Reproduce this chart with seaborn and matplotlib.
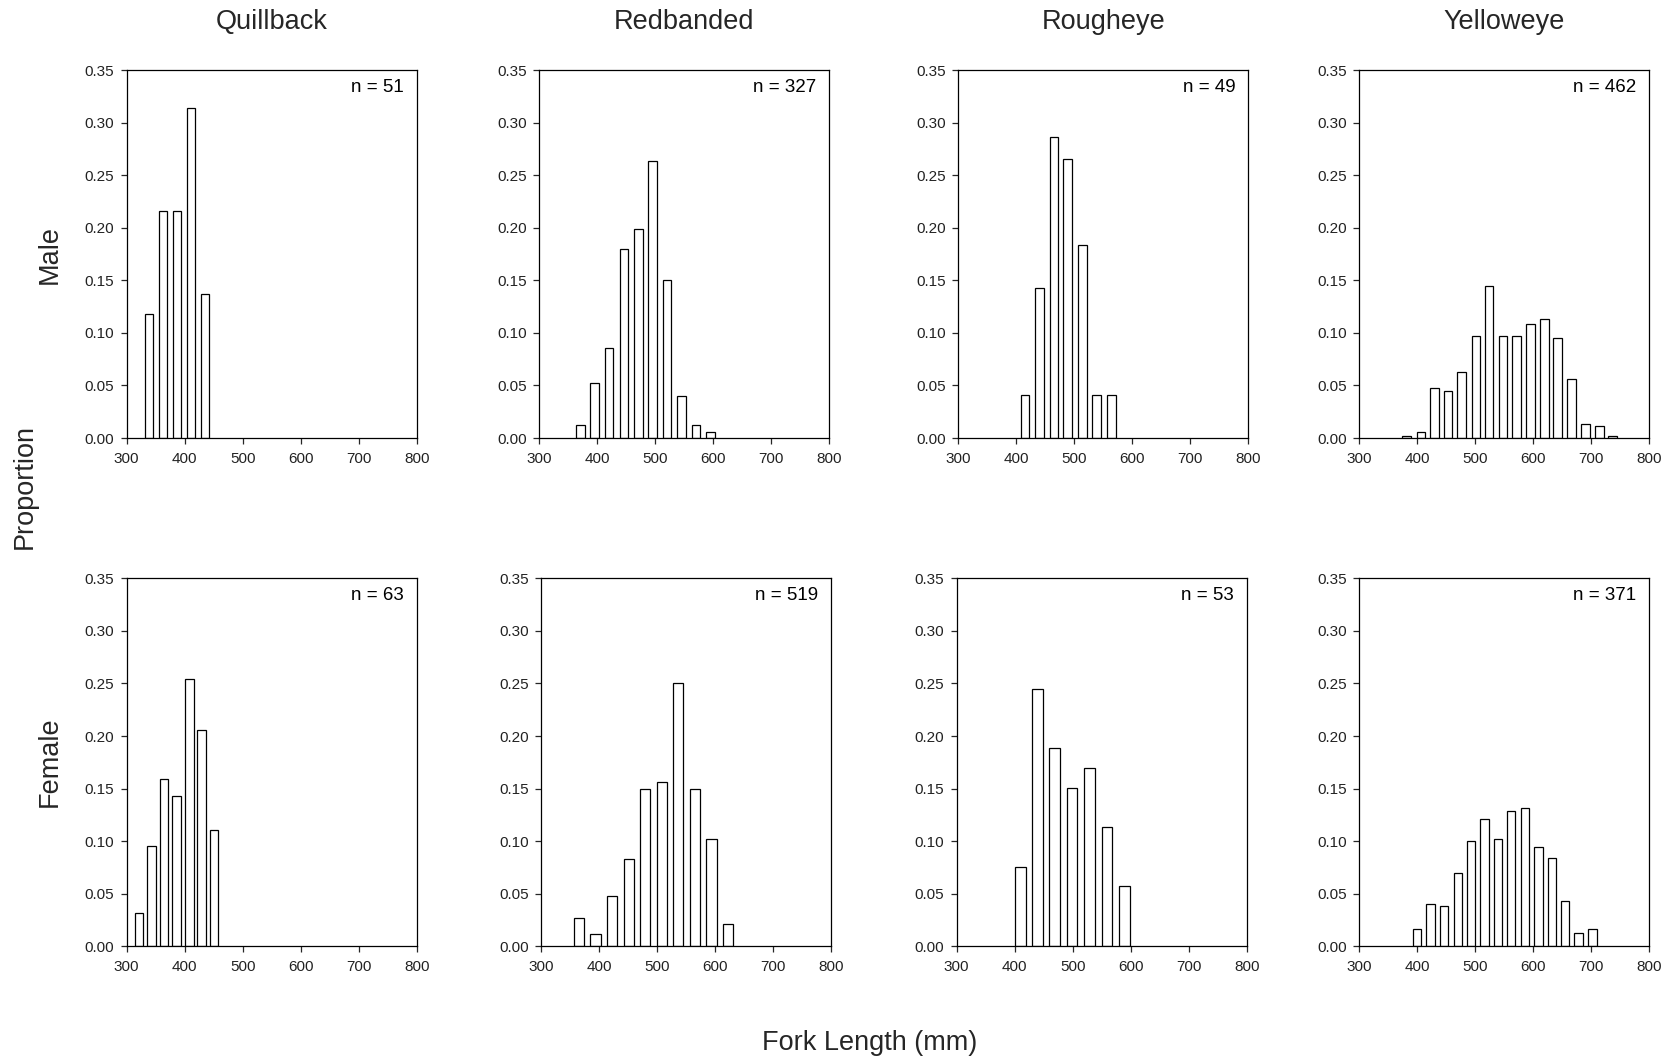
import numpy as np
import pandas as pd
import matplotlib
matplotlib.use("Agg")
import matplotlib.pyplot as plt
import seaborn as sns

# ---------------- data ----------------
species = ["Quillback", "Redbanded", "Rougheye", "Yelloweye"]
sexes = ["Male", "Female"]
n_male = [51, 327, 49, 462]
n_female = [63, 519, 53, 371]

quillback_male_len = [339, 363, 387, 411, 435]
quillback_male_prop = [0.118, 0.216, 0.216, 0.314, 0.137]
redbanded_male_len = [371, 395, 420, 446, 471, 495, 520, 545, 570, 595]
redbanded_male_prop = [0.012, 0.052, 0.086, 0.180, 0.199, 0.263, 0.150, 0.040, 0.012, 0.006]
rougheye_male_len = [415, 440, 465, 489, 514, 539, 564]
rougheye_male_prop = [0.041, 0.143, 0.286, 0.265, 0.184, 0.041, 0.041]
yelloweye_male_len = [381, 406, 430, 453, 476, 501, 524, 548, 571, 595, 619, 642, 666, 690, 714, 737]
yelloweye_male_prop = [0.002, 0.006, 0.048, 0.045, 0.063, 0.097, 0.145, 0.097, 0.097, 0.108,
                       0.113, 0.095, 0.056, 0.013, 0.011, 0.002]

quillback_female_len = [321, 343, 364, 386, 408, 429, 451]
quillback_female_prop = [0.032, 0.095, 0.159, 0.143, 0.254, 0.206, 0.111]
redbanded_female_len = [366, 394, 423, 451, 480, 508, 536, 565, 594, 622]
redbanded_female_prop = [0.027, 0.012, 0.048, 0.083, 0.150, 0.156, 0.250, 0.150, 0.102, 0.021]
rougheye_female_len = [410, 439, 469, 499, 529, 559, 589]
rougheye_female_prop = [0.075, 0.245, 0.189, 0.151, 0.170, 0.113, 0.057]
yelloweye_female_len = [400, 423, 446, 470, 493, 516, 539, 562, 586, 609, 632, 655, 678, 702]
yelloweye_female_prop = [0.016, 0.040, 0.038, 0.070, 0.100, 0.121, 0.102, 0.129, 0.132, 0.094,
                         0.084, 0.043, 0.013, 0.016]

x_ticks = [300, 400, 500, 600, 700, 800]
y_ticks = [0.00, 0.05, 0.10, 0.15, 0.20, 0.25, 0.30, 0.35]

# ---------------- style ----------------
sns.set_style("white")
plt.rcParams["font.family"] = ["Liberation Sans", "DejaVu Sans"]

W, H = 1673, 1062
fig = plt.figure(figsize=(W / 100, H / 100), dpi=100)

panels = {
    ("Male", 0): (quillback_male_len, quillback_male_prop, n_male[0]),
    ("Male", 1): (redbanded_male_len, redbanded_male_prop, n_male[1]),
    ("Male", 2): (rougheye_male_len, rougheye_male_prop, n_male[2]),
    ("Male", 3): (yelloweye_male_len, yelloweye_male_prop, n_male[3]),
    ("Female", 0): (quillback_female_len, quillback_female_prop, n_female[0]),
    ("Female", 1): (redbanded_female_len, redbanded_female_prop, n_female[1]),
    ("Female", 2): (rougheye_female_len, rougheye_female_prop, n_female[2]),
    ("Female", 3): (yelloweye_female_len, yelloweye_female_prop, n_female[3]),
}

# layout (pixels)
lefts = {"Male": [126.7, 539.3, 958.3, 1359.3], "Female": [126.7, 541.0, 956.7, 1359.3]}
tops = {"Male": 70.0, "Female": 578.3}
ax_w, ax_h = 290.0, 368.0
bar_w = {"Male": [14.4, 15.0, 15.5, 14.7], "Female": [14.4, 17.5, 18.4, 14.4]}

for sex in sexes:
    for j in range(4):
        lens, props, n = panels[(sex, j)]
        l = lefts[sex][j]
        t = tops[sex]
        ax = fig.add_axes([l / W, 1 - (t + ax_h) / H, ax_w / W, ax_h / H])
        df = pd.DataFrame({"len": lens, "prop": props})
        frac = bar_w[sex][j] / np.min(np.diff(lens))
        sns.barplot(data=df, x="len", y="prop", native_scale=True, width=frac,
                    color="white", edgecolor="black", linewidth=0.9,
                    errorbar=None, ax=ax, saturation=1)
        ax.set_xlim(300, 800)
        ax.set_ylim(0, 0.35)
        ax.set_xticks(x_ticks)
        ax.set_yticks(y_ticks)
        ax.set_yticklabels([f"{v:.2f}" for v in y_ticks])
        ax.set_xlabel("")
        ax.set_ylabel("")
        for s in ax.spines.values():
            s.set_visible(True)
            s.set_color("black")
            s.set_linewidth(0.9)
        ax.tick_params(axis="both", which="major", direction="out", length=4, width=0.9,
                       labelsize=11, labelcolor="#222222",
                       bottom=True, left=True, top=False, right=False)
        ax.tick_params(axis="x", pad=6)
        ax.tick_params(axis="y", pad=5)
        ax.text(0.955, 0.975, f"n = {n}", transform=ax.transAxes, ha="right", va="top",
                fontsize=13.5, color="black")
        if sex == "Male":
            cx = (l + ax_w / 2) / W
            fig.text(cx, 1 - 29.3 / H, species[j], ha="center", va="baseline", fontsize=19.5)

fig.text(50 / W, 1 - 254 / H, "Male", rotation=90, ha="center", va="center", fontsize=19.5)
fig.text(50 / W, 1 - 762 / H, "Female", rotation=90, ha="center", va="center", fontsize=19.5)
fig.text(25 / W, 1 - 486.7 / H, "Proportion", rotation=90, ha="center", va="center", fontsize=19.5)
fig.text(870 / W, 1 - 1050 / H, "Fork Length (mm)", ha="center", va="baseline", fontsize=19.5)

fig.savefig("out.png", dpi=100, facecolor="white")
